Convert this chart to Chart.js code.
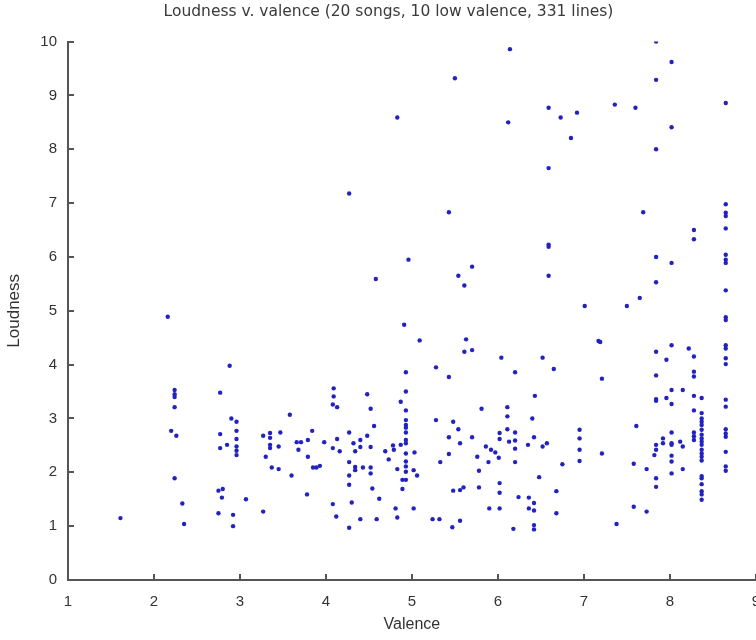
<!DOCTYPE html>
<html>
<head>
<meta charset="utf-8">
<script src="https://cdn.jsdelivr.net/npm/chart.js@4"></script>
<style>
html,body{margin:0;padding:0;background:#fff;overflow:hidden}
#wrap{width:773px;height:640px}
</style>
</head>
<body>
<div id="wrap"><canvas id="c" width="773" height="640"></canvas></div>
<script>
const xTicks=[1,2,3,4,5,6,7,8,9]
const yTicks=[0,1,2,3,4,5,6,7,8,9,10]

// valence / loudness pairs
const valence=[
4.83,4.27,6.14,5.5,6.59,6.73,6.92,6.12,6.85,6.59,5.43,7.84,8.02,7.84,7.36,7.6,8.65,8.02,7.84,7.69,
8.65,8.65,8.65,2.16,2.88,2.24,2.24,2.24,2.77,4.96,4.58,4.91,4.93,4.93,4.09,4.09,4.48,6.59,6.59,5.7,
5.54,5.61,6.59,5.09,5.63,5.61,5.7,6.04,6.52,6.2,6.65,5.28,5.43,6.43,8.65,8.28,8.28,7.84,8.02,8.65,
8.65,8.65,7.84,7.65,7.01,7.5,8.65,8.65,8.65,7.17,7.19,7.21,7.84,8.02,8.22,8.28,7.96,8.65,8.65,8.65,
8.65,7.84,8.28,8.28,8.02,8.15,8.28,8.37,7.84,7.96,8.65,
2.24,2.2,2.26,2.24,2.33,2.35,1.61,2.77,2.77,2.85,2.9,2.96,2.96,2.96,2.96,2.96,2.96,2.75,2.8,2.79,
2.75,2.92,2.92,3.07,3.27,3.35,3.35,3.47,3.58,3.35,3.35,3.45,3.3,3.37,3.45,3.27,3.6,3.66,3.71,3.68,
3.79,3.84,3.79,3.85,3.89,3.93,3.78,3.98,4.08,4.13,4.13,4.08,4.16,4.08,4.12,4.27,4.32,4.4,4.34,4.4,
4.52,4.56,4.48,4.52,4.27,4.34,4.34,4.43,4.52,4.52,4.27,4.27,4.54,4.69,4.73,4.78,4.79,4.87,4.87,4.83,
4.89,4.89,4.93,4.93,4.93,4.93,4.93,4.93,4.93,4.93,4.93,4.93,4.93,4.93,4.3,4.4,4.59,4.27,4.62,4.81,
4.83,
5.03,5.02,5.06,5.02,5.28,5.48,5.54,5.43,5.56,5.43,5.33,5.48,5.56,5.6,5.24,5.32,5.47,5.56,5.81,5.7,
5.76,5.78,5.78,5.86,5.92,5.97,5.89,6.01,6.02,6.02,6.11,6.11,6.11,6.13,6.2,6.2,6.2,6.2,6.02,6.02,
6.02,5.9,6.24,6.18,6.4,6.42,6.35,6.52,6.57,6.48,6.36,6.42,6.36,6.42,6.42,6.42,6.68,6.68,6.75,6.95,
6.95,6.95,6.95,
7.21,7.61,7.58,7.73,7.58,7.73,7.38,7.84,8.02,8.28,
8.37,8.37,8.37,8.37,8.37,8.37,8.37,8.37,8.37,8.37,8.37,8.37,8.37,8.37,8.37,8.37,8.37,8.37,8.37,
8.28,8.28,8.28,8.02,8.02,8.02,8.02,8.02,8.02,8.12,8.15,8.15,7.92,7.92,7.84,7.84,7.82,7.84,7.84,
8.65,8.65,8.65,8.65,8.65,8.65,8.65
]
const loudness=[
8.59,7.18,9.86,9.32,8.77,8.59,8.68,8.5,8.21,7.65,6.83,10.0,9.62,9.29,8.83,8.77,8.86,8.41,8.0,6.83,
6.98,6.82,6.76,4.89,3.98,3.53,3.45,3.4,3.48,5.95,5.59,4.74,3.86,3.5,3.56,3.41,3.45,6.23,6.19,5.82,
5.65,5.47,5.65,4.45,4.47,4.24,4.27,4.13,4.13,3.86,3.92,3.95,3.77,3.42,6.53,6.5,6.33,6.0,5.89,6.04,
5.95,5.89,5.53,5.24,5.09,5.09,5.38,4.88,4.83,4.44,4.42,3.74,4.24,4.36,4.3,4.15,4.09,4.36,4.3,4.12,
4.01,3.8,3.87,3.78,3.53,3.53,3.42,3.38,3.36,3.38,3.35,
3.21,2.77,2.68,1.89,1.42,1.04,1.15,2.71,2.45,2.51,3.0,2.94,2.77,2.62,2.48,2.4,2.32,1.66,1.69,1.53,
1.24,1.21,1.0,1.5,2.68,2.73,2.64,2.74,3.07,2.51,2.45,2.48,2.29,2.09,2.06,1.27,1.94,2.56,2.56,2.42,
2.6,2.77,2.29,2.09,2.09,2.12,1.59,2.56,3.26,3.21,2.62,2.45,2.39,1.41,1.18,2.74,2.54,2.6,2.39,2.47,
3.18,2.86,2.68,2.47,2.19,2.1,2.04,2.09,2.09,1.98,1.94,1.77,1.7,2.39,2.24,2.5,2.42,3.31,2.51,2.06,
1.86,1.69,3.15,2.97,2.88,2.83,2.74,2.6,2.54,2.35,2.2,2.11,2.01,1.86,1.44,1.13,1.13,0.97,1.51,1.33,
1.16,
2.37,2.04,1.94,1.33,2.97,2.94,2.8,2.65,2.54,2.34,2.19,1.66,1.67,1.72,1.13,1.13,0.98,1.1,3.18,2.65,
2.29,2.03,1.72,2.48,2.42,2.37,2.19,2.27,2.73,2.62,3.21,3.04,2.8,2.57,2.74,2.59,2.44,2.19,1.8,1.62,
1.33,1.33,1.54,0.95,3.0,2.65,2.51,2.48,2.54,1.91,1.53,1.43,1.33,1.29,1.02,0.94,1.65,1.24,2.15,2.79,
2.63,2.42,2.21,
2.35,2.86,2.16,2.06,1.36,1.27,1.04,3.33,3.27,3.15,
3.1,3.0,2.94,2.88,2.79,2.7,2.63,2.57,2.51,2.42,2.35,2.29,2.22,1.93,1.89,1.78,1.65,1.59,1.49,
2.74,2.67,2.6,2.74,2.54,2.51,2.31,2.2,1.98,2.57,2.48,2.06,2.63,2.54,2.51,2.42,2.32,1.89,1.73,
3.22,2.8,2.72,2.66,2.38,2.11,2.03
]

const points=valence.map((v,i)=>({x:v,y:loudness[i]}))

// matlab style ticks pointing into the plot
const inwardTicks={
id:"inwardTicks",
afterDraw(chart){
const ctx=chart.ctx
const a=chart.chartArea
const xs=chart.scales.x, ys=chart.scales.y
ctx.save()
ctx.strokeStyle="#555"
ctx.lineWidth=2
xTicks.forEach(t=>{
const px=Math.round(xs.getPixelForValue(t))
ctx.beginPath();ctx.moveTo(px,a.bottom);ctx.lineTo(px,a.bottom-6);ctx.stroke()
})
yTicks.forEach(t=>{
const py=Math.round(ys.getPixelForValue(t))
ctx.beginPath();ctx.moveTo(a.left,py);ctx.lineTo(a.left+6,py);ctx.stroke()
})
ctx.restore()
}
}

const txt="#333"
const fam="Liberation Sans, Arial, sans-serif"

new Chart(document.getElementById("c"),{
type:"scatter",
data:{datasets:[{
data:points,
pointRadius:2.2,
pointBackgroundColor:"#2222c0",
pointBorderWidth:0,
pointHoverRadius:2.2
}]},
options:{
responsive:false,
animation:false,
events:[],
layout:{padding:{left:4,right:0,top:0,bottom:0}},
plugins:{
legend:{display:false},
tooltip:{enabled:false},
title:{
display:true,
text:"Loudness v. valence (20 songs, 10 low valence, 331 lines)",
color:"#3a3a3a",
font:{family:"DejaVu Sans, sans-serif",size:15.5,weight:"normal"},
padding:{top:3,bottom:20}
}
},
scales:{
x:{
type:"linear",
min:1,max:9,
afterBuildTicks(s){s.ticks=xTicks.map(v=>({value:v}))},
afterFit(s){s.height=60},
grid:{display:false,drawTicks:false},
border:{color:"#555",width:2},
ticks:{color:txt,font:{family:fam,size:15},padding:13},
title:{display:true,text:"Valence",color:txt,font:{family:fam,size:16},padding:{top:0,bottom:6}}
},
y:{
type:"linear",
min:0,max:10,
afterBuildTicks(s){s.ticks=yTicks.map(v=>({value:v}))},
afterFit(s){s.width=64},
grid:{display:false,drawTicks:false},
border:{color:"#555",width:2},
ticks:{color:txt,font:{family:fam,size:15},padding:11},
title:{display:true,text:"Loudness",color:txt,font:{family:fam,size:17},padding:{top:0,bottom:2}}
}
}
},
plugins:[inwardTicks]
})
</script>
</body>
</html>
